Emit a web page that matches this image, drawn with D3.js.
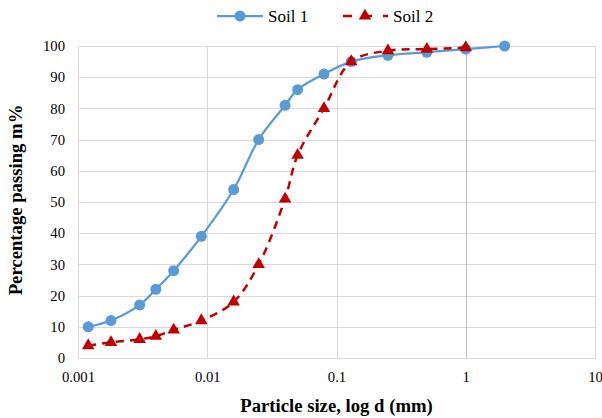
<!DOCTYPE html>
<html>
<head>
<meta charset="utf-8">
<script src="https://cdn.jsdelivr.net/npm/d3@7"></script>
<style>
  html, body { margin: 0; padding: 0; background: #fff; }
  svg { display: block; }
  svg text { font-family: "Liberation Serif", "Times New Roman", serif !important; fill: #000; }
</style>
</head>
<body>
<svg id="chart" width="602" height="418"></svg>
<script>
// Grain size distribution for two soils
const particleSize = [0.0012, 0.0018, 0.003, 0.004, 0.0055, 0.009, 0.016, 0.025, 0.04, 0.05, 0.08, 0.13, 0.25, 0.5, 1, 2];
const soil1 = [10, 12, 17, 22, 28, 39, 54, 70, 81, 86, 91, 95, 97, 98, 99, 100];
const soil2Size = [0.0012, 0.0018, 0.003, 0.004, 0.0055, 0.009, 0.016, 0.025, 0.04, 0.05, 0.08, 0.13, 0.25, 0.5, 1];
const soil2 = [4, 5, 6, 7, 9, 12, 18, 30, 51, 65, 80, 95, 98.5, 99, 99.5];
const xTicks = [0.001, 0.01, 0.1, 1, 10];
const xTickLabels = ["0.001", "0.01", "0.1", "1", "10"];
const yTicks = [0, 10, 20, 30, 40, 50, 60, 70, 80, 90, 100];
const seriesNames = ["Soil 1", "Soil 2"];

const serif = '"Liberation Serif", "Times New Roman", serif';
const svg = d3.select("#chart");
const plot = { left: 78, right: 595, top: 46, bottom: 358 };

const x = d3.scaleLog().domain([0.001, 10]).range([plot.left, plot.right]);
const y = d3.scaleLinear().domain([0, 100]).range([plot.bottom, plot.top]);

const gridColor = "#d9d9d9";

// horizontal gridlines
svg.append("g").selectAll("line").data(yTicks).join("line")
  .attr("x1", plot.left).attr("x2", plot.right)
  .attr("y1", d => Math.round(y(d)) + 0.5).attr("y2", d => Math.round(y(d)) + 0.5)
  .attr("stroke", gridColor).attr("stroke-width", 1);

// vertical gridlines
svg.append("g").selectAll("line").data(xTicks).join("line")
  .attr("x1", d => Math.round(x(d)) + 0.5).attr("x2", d => Math.round(x(d)) + 0.5)
  .attr("y1", plot.top).attr("y2", plot.bottom)
  .attr("stroke", d => d === 1 ? "#bfbfbf" : gridColor).attr("stroke-width", 1);

// plot frame
svg.append("rect")
  .attr("x", plot.left + 0.5).attr("y", Math.round(plot.top) + 0.5)
  .attr("width", plot.right - plot.left).attr("height", plot.bottom - plot.top)
  .attr("fill", "none").attr("stroke", gridColor);

// axes
const xAxis = d3.axisBottom(x).tickValues(xTicks)
  .tickFormat((d, i) => xTickLabels[i]).tickSize(0).tickPadding(14);
const gx = svg.append("g").attr("transform", `translate(0,${plot.bottom})`).call(xAxis)
  .attr("font-family", serif).attr("font-size", 14.7);
gx.select(".domain").remove();

const yAxis = d3.axisLeft(y).tickValues(yTicks).tickSize(0).tickPadding(13);
const gy = svg.append("g").attr("transform", `translate(${plot.left},0)`).call(yAxis)
  .attr("font-family", serif).attr("font-size", 14.7);
gy.select(".domain").remove();

// axis titles
svg.append("text")
  .attr("x", (plot.left + plot.right) / 2).attr("y", 412)
  .attr("text-anchor", "middle")
  .attr("font-family", serif)
  .style("font-size", "18.7px").style("font-weight", "bold")
  .text("Particle size, log d (mm)");

svg.append("text")
  .attr("transform", "translate(22,200) rotate(-90)")
  .attr("text-anchor", "middle")
  .attr("font-family", serif)
  .style("font-size", "18.7px").style("font-weight", "bold")
  .text("Percentage passing m%");

const blue = "#5b9bd5";
const red = "#c00000";

const line = d3.line()
  .x(d => x(d[0])).y(d => y(d[1]))
  .curve(d3.curveCatmullRom.alpha(0.5));

const s1 = particleSize.map((d, i) => [d, soil1[i]]);
const s2 = soil2Size.map((d, i) => [d, soil2[i]]);

// Soil 1
svg.append("path").datum(s1).attr("d", line)
  .attr("fill", "none").attr("stroke", blue).attr("stroke-width", 2.25);
svg.append("g").selectAll("circle").data(s1).join("circle")
  .attr("cx", d => x(d[0])).attr("cy", d => y(d[1])).attr("r", 5.5)
  .attr("fill", blue);

// Soil 2
const tri = d3.symbol(d3.symbolTriangle, 68);
svg.append("path").datum(s2).attr("d", line)
  .attr("fill", "none").attr("stroke", red).attr("stroke-width", 2.5)
  .attr("stroke-dasharray", "8,6");
svg.append("g").selectAll("path").data(s2).join("path")
  .attr("d", tri)
  .attr("transform", d => `translate(${x(d[0])},${y(d[1])})`)
  .attr("fill", red);

// legend
const lg = svg.append("g").attr("font-family", serif);
lg.append("line").attr("x1", 217).attr("x2", 263).attr("y1", 16).attr("y2", 16)
  .attr("stroke", blue).attr("stroke-width", 2.25);
lg.append("circle").attr("cx", 240).attr("cy", 16).attr("r", 5.5).attr("fill", blue);
lg.append("text").attr("x", 268).attr("y", 22).style("font-size", "17px").text(seriesNames[0]);

lg.append("line").attr("x1", 343).attr("x2", 388).attr("y1", 16).attr("y2", 16)
  .attr("stroke", red).attr("stroke-width", 2.5).attr("stroke-dasharray", "9,11");
lg.append("path").attr("d", tri).attr("transform", "translate(365,16)").attr("fill", red);
lg.append("text").attr("x", 393).attr("y", 22).style("font-size", "17px").text(seriesNames[1]);
</script>
</body>
</html>
